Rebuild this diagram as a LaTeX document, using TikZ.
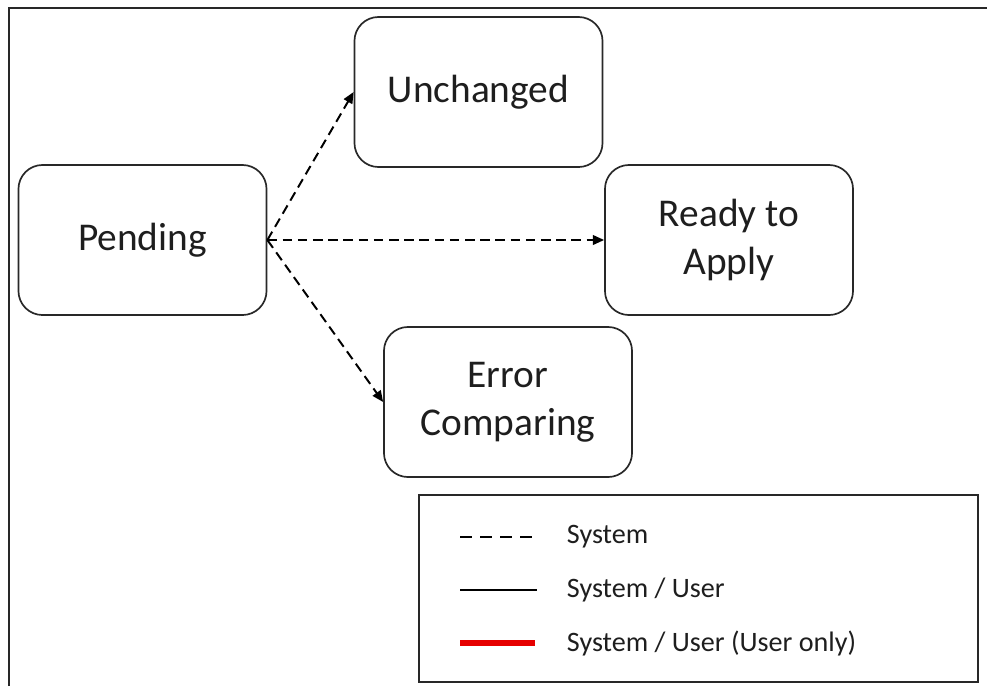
\documentclass[tikz,border=0pt]{standalone}
\usepackage{fontspec}
\setmainfont{Carlito}
\usepackage{xcolor}
\usepackage{tikz}
\usetikzlibrary{arrows.meta, positioning}
\definecolor{framecolor}{RGB}{40,40,40}
\definecolor{textcolor}{RGB}{30,30,30}
\definecolor{useronly}{RGB}{230,0,0}

\begin{document}
\begin{tikzpicture}[
    x=0.025cm, y=-0.025cm,
    state/.style={draw=framecolor, line width=1.2pt, rounded corners=0.6cm, minimum width=6.2cm, minimum height=3.75cm, align=center, text=textcolor, font=\fontsize{28}{34}\selectfont},
    sysflow/.style={dash pattern=on 0.24cm off 0.14cm, line width=1.4pt, -{Triangle[length=2.8mm, width=2.4mm]}},
    legtext/.style={anchor=west, text=textcolor, font=\fontsize{20}{24}\selectfont}
]
    \useasboundingbox (0,0) rectangle (987,686);
    % outer frame (only left and top edges show)
    \draw[framecolor, line width=1.4pt] (9,686) -- (9,8) -- (987,8);

    % States
    \node[state] (pending) at (142.5,240) {Pending};
    \node[state] (unchanged) at (478.5,92) {Unchanged};
    \node[state] (ready) at (729,240) {Ready to\\Apply};
    \node[state] (error) at (508,402) {Error\\Comparing};

    % System transitions
    \draw[sysflow] (pending.east) -- (unchanged.west);
    \draw[sysflow] (pending.east) -- (ready.west);
    \draw[sysflow] (pending.east) -- (error.west);

    % Legend
    \draw[framecolor, line width=1.3pt] (419,495) rectangle (978,682);

    \draw[line width=1.2pt, dash pattern=on 0.3cm off 0.2cm] (460,537) -- (540,537);
    \node[legtext] (legsys) at (562,537) {System};

    \draw[line width=1.2pt] (460,590) -- (537,590);
    \node[legtext] (legboth) at (562,590) {System / User};

    \draw[useronly, line width=4.5pt] (460,643) -- (535,643);
    \node[legtext] (leguser) at (562,643) {System / User (User only)};
\end{tikzpicture}
\end{document}
